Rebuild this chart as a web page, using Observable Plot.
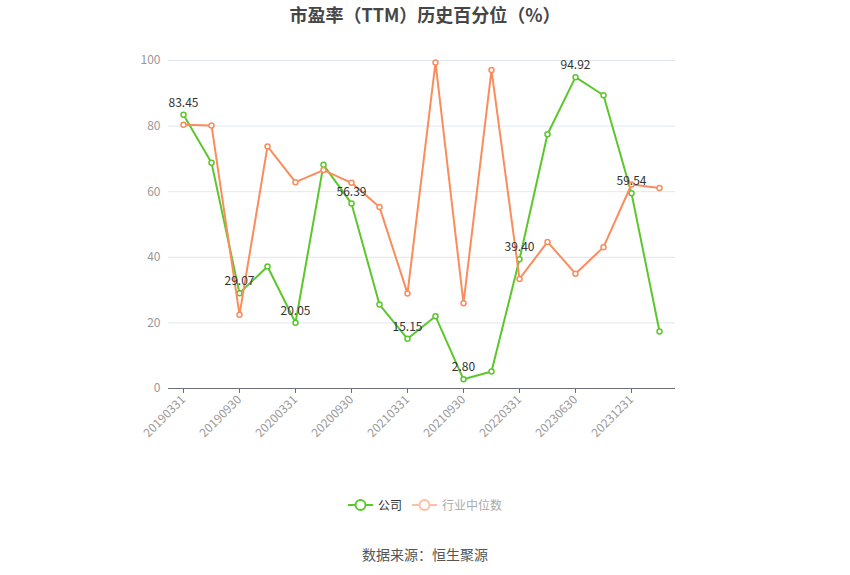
<!DOCTYPE html>
<html>
<head>
<meta charset="utf-8">
<script src="https://cdn.jsdelivr.net/npm/d3@7"></script>
<script src="https://cdn.jsdelivr.net/npm/@observablehq/plot@0.6"></script>
<style>
  html, body { margin: 0; padding: 0; background: #fff; }
  body { width: 850px; height: 575px; position: relative; overflow: hidden;
         font-family: "Noto Sans CJK SC", "Noto Sans", sans-serif; }
  #chart { position: absolute; left: 0; top: 0; }
  .title { position: absolute; left: 0; width: 850px; top: 1px; text-align: center;
           font-size: 18px; font-weight: bold; color: #464646; }
  .legend { position: absolute; left: 0; width: 850px; top: 496px; display: flex;
            justify-content: center; align-items: center; font-size: 12px; }
  .legend .item { display: flex; align-items: center; margin: 0 5px; }
  .legend svg { margin-right: 5px; }
  .caption { position: absolute; left: 0; width: 850px; top: 544px; text-align: center;
             font-size: 14px; color: #555; }
</style>
</head>
<body>
<div id="chart"></div>
<div class="title">市盈率（TTM）历史百分位（%）</div>
<div class="legend">
  <div class="item">
    <svg width="25" height="14"><line x1="0" y1="7" x2="25" y2="7" stroke="#5cc72c" stroke-width="2"/><circle cx="12.5" cy="7" r="5" fill="#fff" stroke="#5cc72c" stroke-width="2"/></svg>
    <span style="color:#333">公司</span>
  </div>
  <div class="item">
    <svg width="25" height="14"><line x1="0" y1="7" x2="25" y2="7" stroke="#fcc0a7" stroke-width="2"/><circle cx="12.5" cy="7" r="5" fill="#fff" stroke="#fcc0a7" stroke-width="2"/></svg>
    <span style="color:#aaa">行业中位数</span>
  </div>
</div>
<div class="caption">数据来源：恒生聚源</div>
<script>
const dates = ["20190331","20190630","20190930","20191231","20200331","20200630","20200930","20201231",
               "20210331","20210630","20210930","20211231","20220331","20221231","20230630","20230930",
               "20231231","20240331"];
const companyValues = [83.45, 68.8, 29.07, 37.2, 20.05, 68.2, 56.39, 25.6, 15.15, 22.0, 2.80, 5.2,
                       39.40, 77.5, 94.92, 89.4, 59.54, 17.4];
const industryValues = [80.4, 80.2, 22.5, 73.8, 62.9, 66.6, 62.7, 55.3, 29.0, 99.4, 26.0, 97.1,
                        33.4, 44.7, 35.0, 43.1, 62.2, 61.1];
const tickLabels = ["20190331","20190930","20200331","20200930","20210331","20210930","20220331","20230630","20231231"];
const yTicks = [0, 20, 40, 60, 80, 100];
const labeledIdx = [0, 2, 4, 6, 8, 10, 12, 14, 16];

const green = "#5cc72c";
const orange = "#fb8c5c";

const company = dates.map((d, i) => ({date: d, v: companyValues[i]}));
const industry = dates.map((d, i) => ({date: d, v: industryValues[i]}));
const labeled = labeledIdx.map(i => company[i]);

const chart = Plot.plot({
  width: 850,
  height: 575,
  marginTop: 60,
  marginBottom: 187,
  marginLeft: 168,
  marginRight: 175,
  style: {fontFamily: "'Noto Sans CJK SC', 'Noto Sans', sans-serif", background: "transparent"},
  x: {type: "point", domain: dates, padding: 0, range: [182, 660], axis: null},
  y: {domain: [0, 100], axis: null},
  marks: [
    Plot.gridY(yTicks.filter(t => t > 0), {stroke: "#e0e6f1", strokeOpacity: 1, strokeWidth: 1}),
    Plot.axisY(yTicks, {tickSize: 0, tickPadding: 8, fill: "#999", fontSize: 12, label: null}),
    Plot.ruleY([0], {stroke: "#6e7079", strokeWidth: 1}),
    Plot.axisX(tickLabels, {tickSize: 5, stroke: "#6e7079", tickRotate: -45, tickPadding: 4,
                            fill: "#999", fontSize: 12, label: null}),
    Plot.line(company, {x: "date", y: "v", stroke: green, strokeWidth: 2}),
    Plot.dot(company, {x: "date", y: "v", r: 2.5, fill: "#fff", stroke: green, strokeWidth: 1.5}),
    Plot.line(industry, {x: "date", y: "v", stroke: orange, strokeWidth: 2}),
    Plot.dot(industry, {x: "date", y: "v", r: 2.5, fill: "#fff", stroke: orange, strokeWidth: 1.5}),
    Plot.text(labeled, {x: "date", y: "v", text: d => d.v.toFixed(2), dy: -8, lineAnchor: "bottom",
                        fill: "#333", fontSize: 12})
  ]
});
document.getElementById("chart").appendChild(chart);
</script>
</body>
</html>
